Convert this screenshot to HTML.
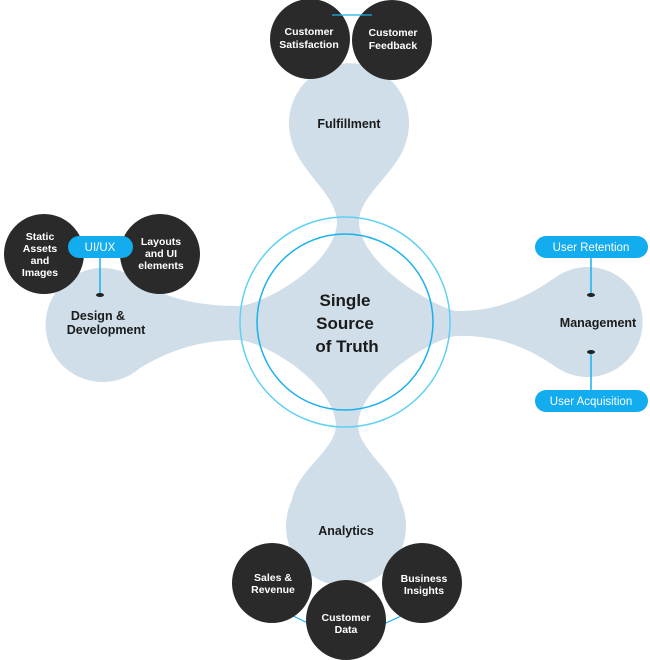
<!DOCTYPE html>
<html><head><meta charset="utf-8"><style>
html,body{margin:0;padding:0;background:#fff;width:650px;height:660px;overflow:hidden}
text{font-family:"Liberation Sans",sans-serif}
.w{fill:#fff;font-size:10.5px;font-weight:bold;text-anchor:middle}
.b{fill:#1b1b1b;font-size:12.5px;font-weight:bold;text-anchor:middle}
.p{fill:#fff;font-size:11.5px;text-anchor:middle}
</style></head><body>
<svg width="650" height="660" viewBox="0 0 650 660" xmlns="http://www.w3.org/2000/svg">
<path fill="#cfdee8" d="M337 222 C337 195 300 172 292 142 A60 60 0 1 1 406 142 C398 172 359 195 359 222 C360 262 425 302 455 311 C493 312 523 300 556 277 A55 55 0 1 1 556 367 C523 344 493 335 455 336 C425 342 360 385 358 425 C358 450 395 470 400 500 A60 60 0 1 1 292 500 C297 470 336 450 336 425 C334 385 270 344 240 340 C200 340 170 350 140 368 A57 57 0 1 1 140 282 C170 300 200 306 240 306 C270 302 336 262 337 222 Z"/>
<circle cx="345" cy="322" r="105" fill="none" stroke="#5fd0f5" stroke-width="1.5"/>
<circle cx="345" cy="322" r="88" fill="none" stroke="#1ab0ee" stroke-width="1.5"/>
<text class="b" x="345" y="306" style="font-size:17px">Single</text>
<text class="b" x="345" y="329" style="font-size:17px">Source</text>
<text class="b" x="347" y="352" style="font-size:17px">of Truth</text>
<text class="b" x="349" y="128">Fulfillment</text>
<text class="b" x="346" y="535">Analytics</text>
<text class="b" x="98" y="320">Design &amp;</text>
<text class="b" x="106" y="334">Development</text>
<text class="b" x="598" y="327">Management</text>
<line x1="100" y1="250" x2="100" y2="295" stroke="#1ab0ee" stroke-width="1.5"/>
<ellipse cx="100" cy="295" rx="4" ry="2" fill="#222"/>
<line x1="591" y1="250" x2="591" y2="295" stroke="#1ab0ee" stroke-width="1.5"/>
<ellipse cx="591" cy="295" rx="4" ry="2" fill="#222"/>
<line x1="591" y1="352" x2="591" y2="400" stroke="#1ab0ee" stroke-width="1.5"/>
<ellipse cx="591" cy="352" rx="4" ry="2" fill="#222"/>
<line x1="285" y1="612" x2="318" y2="628" stroke="#1ab0ee" stroke-width="1.2"/>
<line x1="375" y1="628" x2="410" y2="612" stroke="#1ab0ee" stroke-width="1.2"/>
<g fill="#2b2a2a">
<circle cx="310" cy="39" r="40"/><circle cx="392" cy="40" r="40"/>
<circle cx="44" cy="254" r="40"/><circle cx="160" cy="254" r="40"/>
<circle cx="272" cy="583" r="40"/><circle cx="422" cy="583" r="40"/><circle cx="346" cy="620" r="40"/>
</g>
<line x1="332" y1="15" x2="372" y2="15" stroke="#1ab0ee" stroke-width="1.2"/>
<text class="w" x="309" y="35">Customer</text><text class="w" x="309" y="48">Satisfaction</text>
<text class="w" x="393" y="36">Customer</text><text class="w" x="393" y="49">Feedback</text>
<text class="w" x="40" y="240">Static</text><text class="w" x="40" y="252">Assets</text><text class="w" x="40" y="264">and</text><text class="w" x="40" y="276">Images</text>
<text class="w" x="161" y="245">Layouts</text><text class="w" x="161" y="257">and UI</text><text class="w" x="161" y="269">elements</text>
<text class="w" x="273" y="581">Sales &amp;</text><text class="w" x="273" y="593">Revenue</text>
<text class="w" x="424" y="582">Business</text><text class="w" x="424" y="594">Insights</text>
<text class="w" x="346" y="621">Customer</text><text class="w" x="346" y="633">Data</text>
<g fill="#12acef">
<rect x="68" y="236" width="65" height="22" rx="11"/>
<rect x="535" y="236" width="113" height="22" rx="11"/>
<rect x="535" y="390" width="113" height="22" rx="11"/>
</g>
<text class="p" x="100" y="251">UI/UX</text>
<text class="p" x="591" y="251">User Retention</text>
<text class="p" x="591" y="405">User Acquisition</text>
</svg>
</body></html>
